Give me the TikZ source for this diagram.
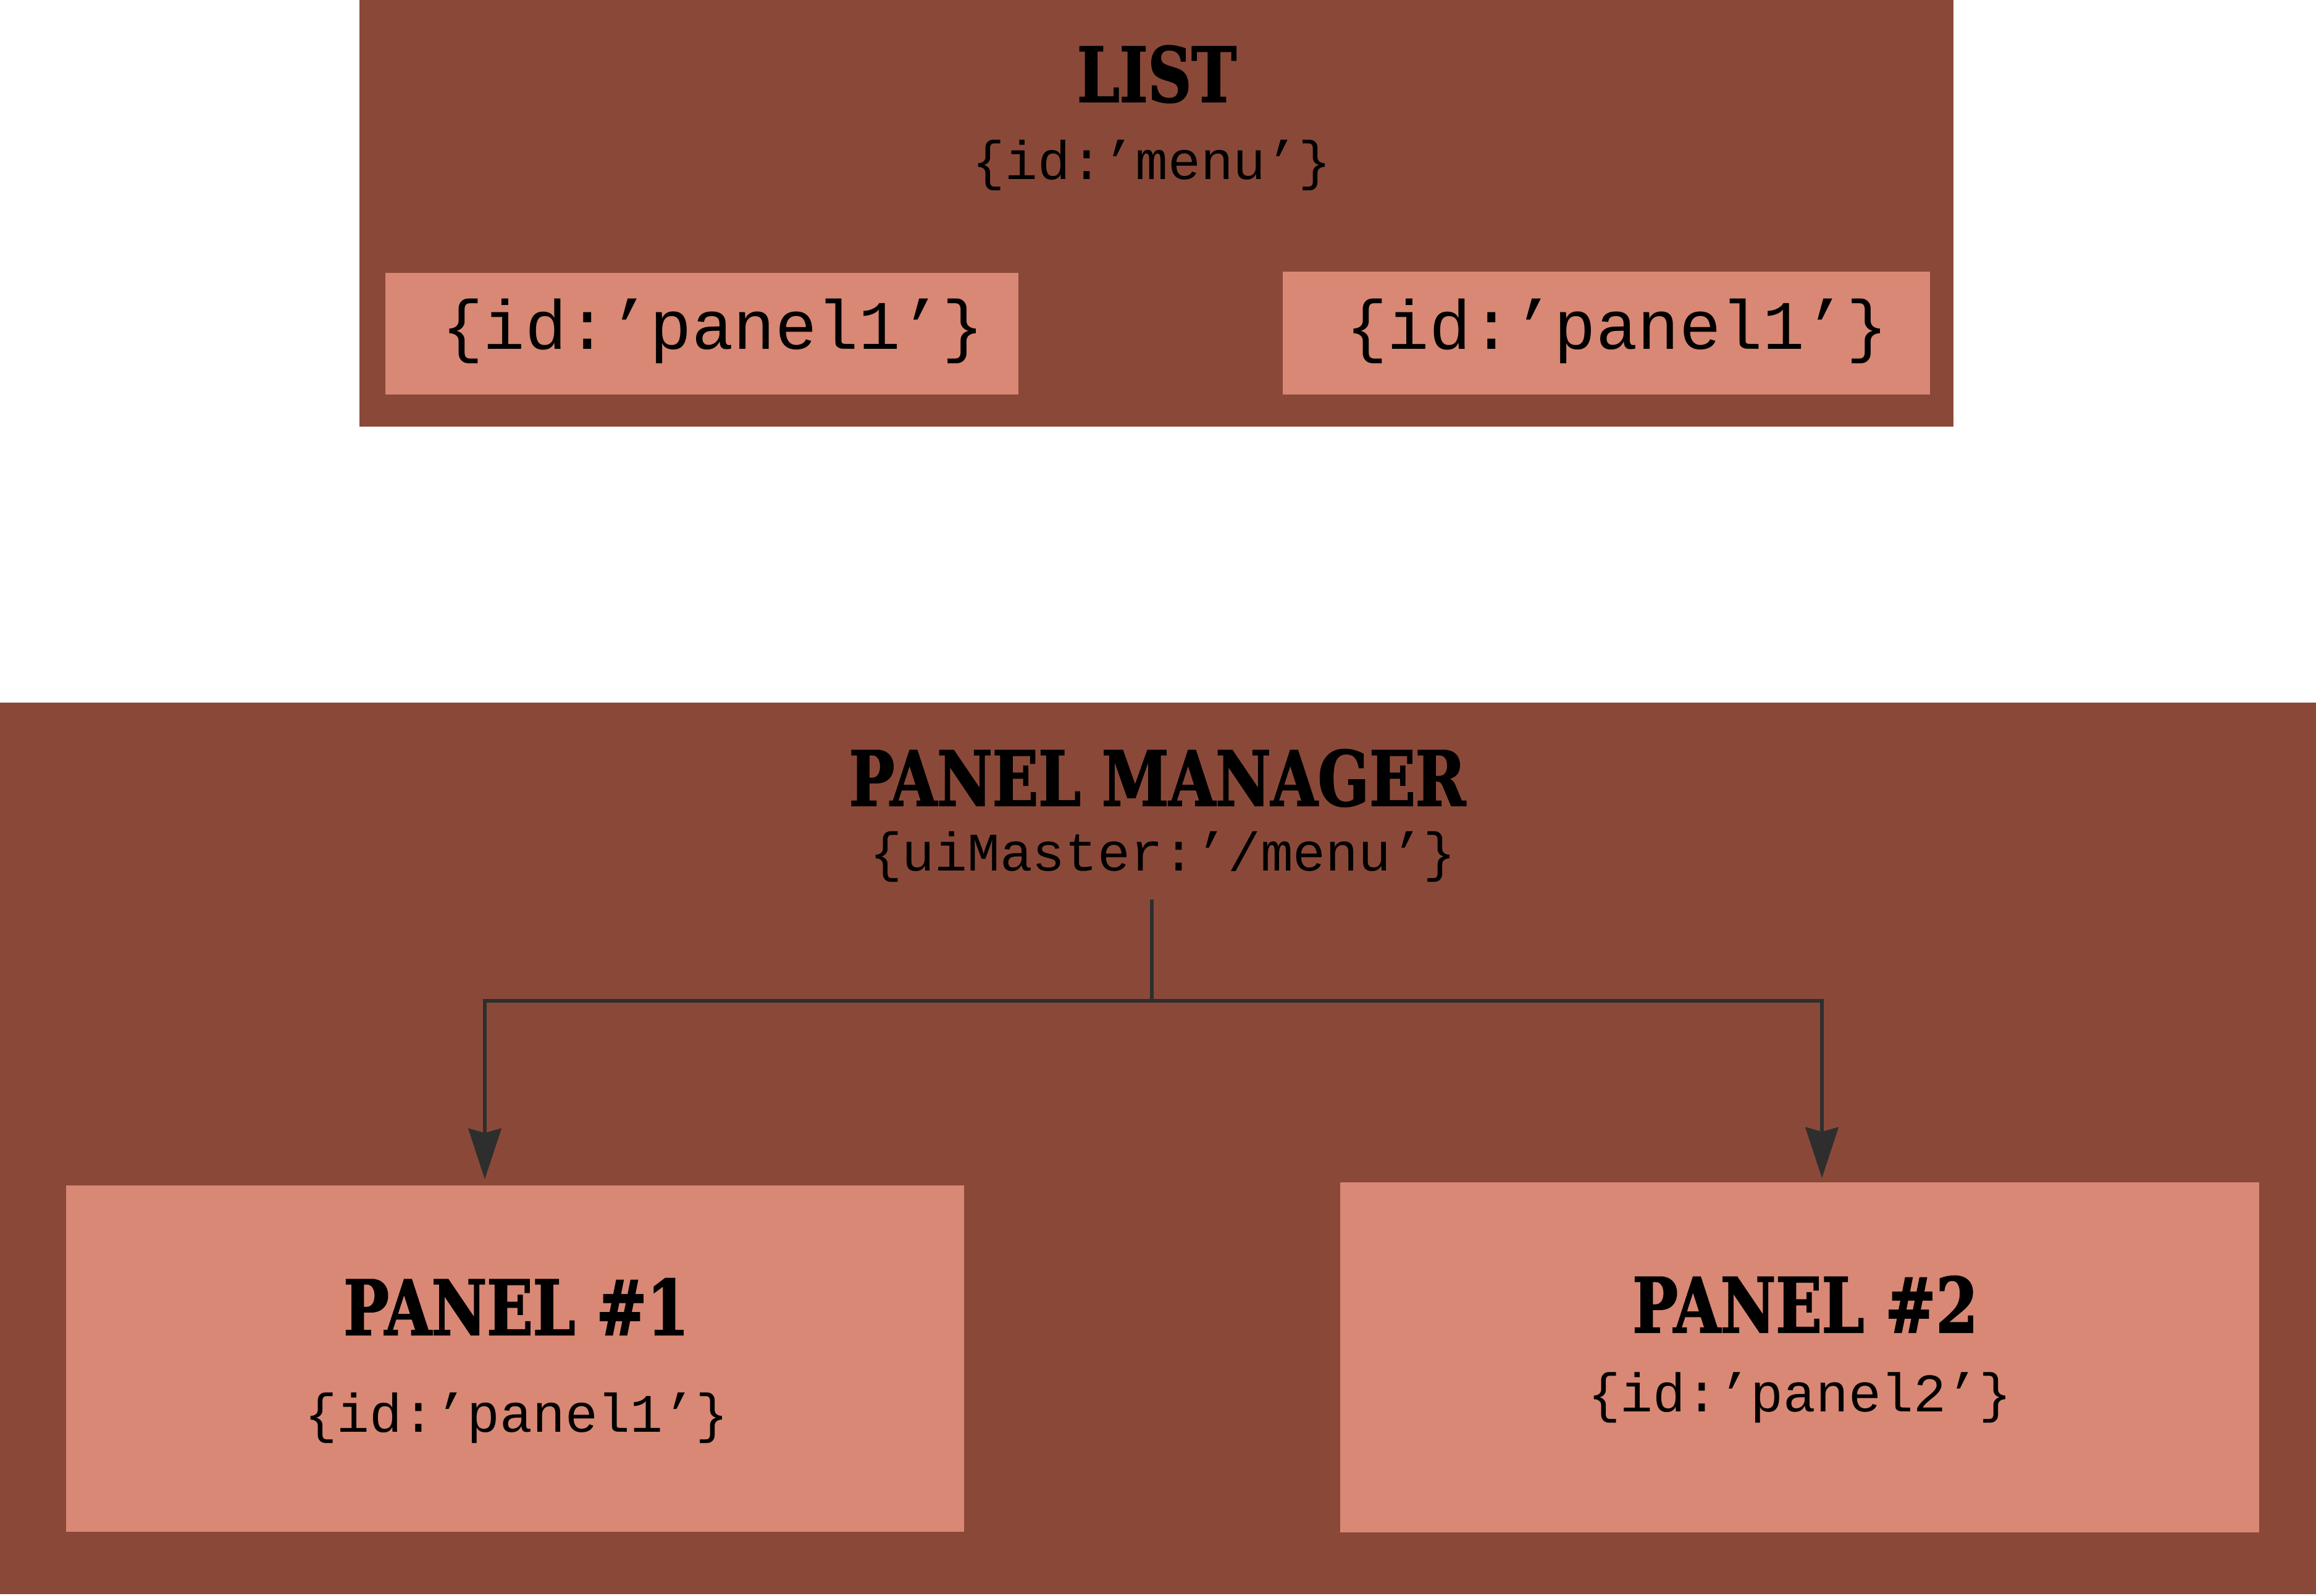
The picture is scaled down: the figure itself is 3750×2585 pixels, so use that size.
\documentclass[tikz,border=0pt]{standalone}
\usepackage{fontspec}
\setmonofont{Liberation Mono}
\newfontfamily\titlefont[FakeStretch=0.795,FakeBold=1.6]{DejaVu Serif}
\usetikzlibrary{arrows.meta}
\definecolor{outerbrown}{HTML}{8A4938}
\definecolor{innersalmon}{HTML}{D88874}
\definecolor{wire}{HTML}{2E2E2E}
\begin{document}
\begin{tikzpicture}[x=0.01cm,y=-0.01cm,
  container/.style={fill=outerbrown, draw=none, inner sep=0pt, outer sep=0pt},
  panelbox/.style={fill=innersalmon, draw=none, inner sep=0pt, outer sep=0pt},
  titletext/.style={font=\titlefont\bfseries\fontsize{35}{35}\selectfont, inner sep=0pt, anchor=base},
  codetext/.style={font=\ttfamily\fontsize{25}{25}\selectfont, inner sep=0pt, anchor=base},
  bigcode/.style={font=\ttfamily\fontsize{32}{32}\selectfont, inner sep=0pt, anchor=base},
  link/.style={draw=wire, line width=1.9pt},
  arrowlink/.style={link, -{Stealth[length=0.82cm, width=0.53cm, inset=0.07cm]}}
]
\useasboundingbox (0,0) rectangle (3750,2585);
\fill[white] (0,0) rectangle (3750,2585);

% LIST container
\node[container, minimum width=25.79cm, minimum height=6.91cm] (list) at (1872.5,345.5) {};
\node[panelbox, minimum width=10.25cm, minimum height=1.97cm] (lp1) at (1136.5,540.5) {};
\node[panelbox, minimum width=10.48cm, minimum height=1.99cm] (lp2) at (2601,539.5) {};
\node[titletext] (listtitle) at (1873,165) {LIST};
\node[codetext] (listid) at (1865,291) {\{id:’menu’\}};
\node[bigcode] (lp1id) at (1154,566) {\{id:’panel1’\}};
\node[bigcode] (lp2id) at (2618,566) {\{id:’panel1’\}};

% PANEL MANAGER container
\node[container, minimum width=37.5cm, minimum height=14.44cm] (manager) at (1875,1860) {};
\node[panelbox, minimum width=14.54cm, minimum height=5.61cm] (panel1) at (834,2200.5) {};
\node[panelbox, minimum width=14.88cm, minimum height=5.67cm] (panel2) at (2914,2198.5) {};
\node[titletext] (mgrtitle) at (1874,1305) {PANEL MANAGER};
\node[codetext] (mgrid) at (1883,1410) {\{uiMaster:’/menu’\}};
\node[titletext] (p1title) at (836,2162) {PANEL \#1};
\node[codetext] (p1id) at (836,2319) {\{id:’panel1’\}};
\node[titletext] (p2title) at (2923,2158) {PANEL \#2};
\node[codetext] (p2id) at (2914,2286) {\{id:’panel2’\}};

% connectors
\coordinate (hub) at (1865,1457);
\coordinate (junction) at (1865,1621);
\coordinate (p1in) at (785,1910);
\coordinate (p2in) at (2950,1908);
\draw[link] (hub) -- (junction);
\draw[arrowlink] (junction) -| (p1in);
\draw[arrowlink] (junction) -| (p2in);
\end{tikzpicture}
\end{document}
